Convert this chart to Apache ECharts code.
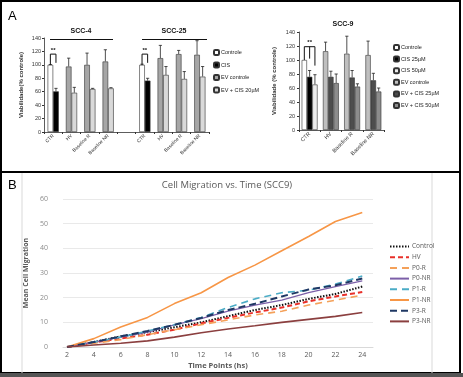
<!DOCTYPE html>
<html><head><meta charset="utf-8">
<script src="https://cdn.jsdelivr.net/npm/echarts/dist/echarts.min.js"></script>
<style>html,body{margin:0;padding:0;background:#fff}#c{width:463px;height:377px}</style>
</head><body><div id="c"></div>
<script>
// ---------- Panel A (SCC-4 / SCC-25) ----------
const catsA = ['CTR','HV','Baseline R','Baseline NR','','CTR','HV','Baseline R','Baseline NR'];
const controleA   = [100,'-','-','-','-',100,'-','-','-'];
const cisA        = [60.5,'-','-','-','-',76.5,'-','-','-'];
const evControleA = ['-',97.5,100,105,'-','-',110,116,115];
const evCisA      = ['-',58.5,64,65,'-','-',85,79,82.5];
const errControleA   = [0.5,0,0,0,0,1,0,0,0];
const errCisA        = [4.5,0,0,0,0,3.5,0,0,0];
const errEvControleA = [0,12.5,17.5,17.5,0,0,19,5.5,21];
const errEvCisA      = [0,8,1,1,0,0,12.5,11,15];
const legendA = ['Controle','CIS','EV controle','EV + CIS 20µM'];

// ---------- Panel A (SCC-9) ----------
const cats9 = ['CTR','HV','Baseline R','Baseline NR'];
const controle9 = [100,'-','-','-'];
const cis25_9   = [76,'-','-','-'];
const cis50_9   = [65,'-','-','-'];
const evControle9 = ['-',112.5,109,107];
const evCis25_9   = ['-',76,75,71];
const evCis50_9   = ['-',67,62,55];
const errControle9 = [0,0,0,0];
const errCis25_9   = [9,0,0,0];
const errCis50_9   = [14,0,0,0];
const errEvControle9 = [0,13,25,20];
const errEvCis25_9   = [0,8,10,10];
const errEvCis50_9   = [0,13,4,5];
const legend9 = ['Controle','CIS 25µM','CIS 50µM','EV controle','EV + CIS 25µM','EV + CIS 50µM'];

// ---------- Panel B ----------
const timePoints = [2,4,6,8,10,12,14,16,18,20,22,24];
const xTicksB = [2,4,6,8,10,12,14,16,18,20,22,24];
const control = [0,2,4.3,6,8,10,12.5,15,17,19.5,21.5,24.5];
const hv      = [0,1.8,3.5,5,7,9.6,11.8,14,16,18.5,20.5,22.3];
const p0r     = [0,1.5,3,5,7,9,11,13,14.5,17,19,21];
const p0nr    = [0,2,4,6,9,11.5,14.5,17,19,22,24.5,26.8];
const p1r     = [0,2,4,6.5,9,12,16,19.5,22,23,25.5,28.8];
const p1nr    = [0,3.4,8.1,12,17.6,22,28.2,33.2,39,44.8,50.9,54.5];
const p3r     = [0,2,4.3,6.5,9,11.8,15,17.5,20.5,23.3,25,27.8];
const p3nr    = [0,0.8,1.5,2.5,4,5.8,7.3,8.6,10,11.2,12.4,14];

const fA = 'Liberation Sans, Arial, sans-serif';
const fB = 'Open Sans, Lato, sans-serif';
const BW_A = 5.6, BW_9 = 5.3;

function errData(vals, errs, pos){
  const out = [];
  vals.forEach((v,i)=>{ if (typeof v === 'number' && errs[i] > 0) out.push([i, v, errs[i], pos]); });
  return out;
}
function errRender(bw){
  return function(params, api){
    const i = api.value(0), v = api.value(1), e = api.value(2), pos = api.value(3);
    const p0 = api.coord([i, v]), p1 = api.coord([i, v + e]);
    const x = p0[0] + pos * bw;
    return {type:'group', children:[
      {type:'line', shape:{x1:x,y1:p0[1],x2:x,y2:p1[1]}, style:{stroke:'#222',lineWidth:0.8}},
      {type:'line', shape:{x1:x-1.6,y1:p1[1],x2:x+1.6,y2:p1[1]}, style:{stroke:'#222',lineWidth:0.8}}
    ]};
  };
}
// brackets: [cat, topValue, bottom value of each leg...]
const bracketsA = [[0,116,100,103],[5,116,100,103]];
const bracket9 = [[0,119,100,102,92]];
function bracketRender(bw, legPos){
  return function(params, api){
    const i = api.value(0), top = api.value(1);
    const ptTop = api.coord([i, top]);
    const children = [];
    const xs = legPos.map(p => ptTop[0] + p * bw);
    children.push({type:'line', shape:{x1:xs[0],y1:ptTop[1],x2:xs[xs.length-1],y2:ptTop[1]}, style:{stroke:'#111',lineWidth:1}});
    legPos.forEach((p,k)=>{
      const b = api.coord([i, api.value(2+k)]);
      children.push({type:'line', shape:{x1:xs[k],y1:ptTop[1],x2:xs[k],y2:b[1]}, style:{stroke:'#111',lineWidth:1}});
    });
    children.push({type:'text', style:{text:'**', x:(xs[0]+xs[xs.length-1])/2, y:ptTop[1]-1, align:'center', verticalAlign:'bottom', font:'bold 6px '+fA, fill:'#111'}});
    return {type:'group', children};
  };
}

const barBorder = {borderColor:'#333', borderWidth:0.6};
function mkBar(name, data, stack, color, xi, yi, bw){
  return {type:'bar', name, data, stack, xAxisIndex:xi, yAxisIndex:yi, barWidth:bw, barGap:'0%',
    itemStyle:Object.assign({color}, barBorder), emphasis:{disabled:true}, animation:false};
}

const lineStyles = [
  ['Control', control, '#111111', 2, [1.5,1.5]],
  ['HV', hv, '#e8302a', 2, [5,3]],
  ['P0-R', p0r, '#f4a15a', 1.6, [7,5]],
  ['P0-NR', p0nr, '#7c5fa8', 1.3, 'solid'],
  ['P1-R', p1r, '#4bacc6', 1.6, [7,5]],
  ['P1-NR', p1nr, '#f79646', 1.6, 'solid'],
  ['P3-R', p3r, '#1f3864', 2, [7,4]],
  ['P3-NR', p3nr, '#8b3f3f', 1.6, 'solid']
];

const series = [
  mkBar('Controle|A', controleA, 'L', '#ffffff', 0, 0, BW_A),
  mkBar('CIS|A', cisA, 'R', '#000000', 0, 0, BW_A),
  mkBar('EV controle|A', evControleA, 'L', '#a6a6a6', 0, 0, BW_A),
  mkBar('EV + CIS 20µM|A', evCisA, 'R', '#d9d9d9', 0, 0, BW_A),
  {type:'custom', xAxisIndex:0, yAxisIndex:0, renderItem:errRender(BW_A), encode:{x:0,y:1}, silent:true, animation:false,
    data:[].concat(errData(controleA,errControleA,-0.5), errData(cisA,errCisA,0.5), errData(evControleA,errEvControleA,-0.5), errData(evCisA,errEvCisA,0.5))},
  {type:'custom', xAxisIndex:0, yAxisIndex:0, renderItem:bracketRender(BW_A,[-0.5,0.5]), encode:{x:0,y:1}, silent:true, animation:false, data:bracketsA},

  mkBar('Controle|9', controle9, 'a', '#ffffff', 1, 1, BW_9),
  mkBar('CIS 25µM|9', cis25_9, 'b', '#000000', 1, 1, BW_9),
  mkBar('CIS 50µM|9', cis50_9, 'c', '#ececec', 1, 1, BW_9),
  mkBar('EV controle|9', evControle9, 'a', '#bfbfbf', 1, 1, BW_9),
  mkBar('EV + CIS 25µM|9', evCis25_9, 'b', '#4d4d4d', 1, 1, BW_9),
  mkBar('EV + CIS 50µM|9', evCis50_9, 'c', '#8c8c8c', 1, 1, BW_9),
  {type:'custom', xAxisIndex:1, yAxisIndex:1, renderItem:errRender(BW_9), encode:{x:0,y:1}, silent:true, animation:false,
    data:[].concat(errData(controle9,errControle9,-1), errData(cis25_9,errCis25_9,0), errData(cis50_9,errCis50_9,1),
      errData(evControle9,errEvControle9,-1), errData(evCis25_9,errEvCis25_9,0), errData(evCis50_9,errEvCis50_9,1))},
  {type:'custom', xAxisIndex:1, yAxisIndex:1, renderItem:bracketRender(BW_9,[-1,0,1]), encode:{x:0,y:1}, silent:true, animation:false, data:bracket9}
].concat(lineStyles.map(([name, vals, color, w, dash]) => ({
  type:'line', name, xAxisIndex:2, yAxisIndex:2, symbol:'none', animation:false,
  data: timePoints.map((t,i)=>[t, vals[i]]),
  lineStyle:{color, width:w, type:dash}, itemStyle:{color}
})));

const strip = n => n.split('|')[0];
const option = {
  backgroundColor:'#fff',
  animation:false,
  grid:[
    {left:44, top:38, width:165, height:94},
    {left:299, top:32, width:85, height:98},
    {left:63, top:199, width:310, height:148}
  ],
  xAxis:[
    {type:'category', gridIndex:0, data:catsA,
      axisLine:{lineStyle:{color:'#333',width:0.8}}, axisTick:{show:true,length:2,lineStyle:{color:'#333'}},
      axisLabel:{rotate:45, interval:0, fontSize:4.8, margin:3, color:'#333', fontFamily:fA}},
    {type:'category', gridIndex:1, data:cats9,
      axisLine:{lineStyle:{color:'#333',width:0.8}}, axisTick:{show:true,length:2,lineStyle:{color:'#333'}},
      axisLabel:{rotate:45, interval:0, fontSize:5.5, margin:3, color:'#333', fontFamily:fA}},
    {type:'value', gridIndex:2, min:1.7, max:24.8,
      axisLine:{lineStyle:{color:'#d9d9d9'}}, axisTick:{show:false}, splitLine:{show:false},
      axisLabel:{customValues:xTicksB, fontSize:7, margin:4, color:'#595959', fontFamily:fB},
      name:'Time Points (hs)', nameLocation:'middle', nameGap:15,
      nameTextStyle:{fontSize:7.5, fontWeight:'bold', color:'#595959', fontFamily:fB}}
  ],
  yAxis:[
    {type:'value', gridIndex:0, min:0, max:140, interval:20,
      axisLine:{show:true,lineStyle:{color:'#333',width:0.8}}, axisTick:{show:true,length:2,lineStyle:{color:'#333'}}, splitLine:{show:false},
      axisLabel:{fontSize:5.5, margin:3, color:'#333', fontFamily:fA},
      name:'Viabilidade(% controle)', nameLocation:'middle', nameGap:20, nameRotate:90,
      nameTextStyle:{fontSize:6, fontWeight:'bold', color:'#333', fontFamily:fA}},
    {type:'value', gridIndex:1, min:0, max:140, interval:20,
      axisLine:{show:true,lineStyle:{color:'#333',width:0.8}}, axisTick:{show:true,length:2,lineStyle:{color:'#333'}}, splitLine:{show:false},
      axisLabel:{fontSize:5.5, margin:4, color:'#333', fontFamily:fA},
      name:'Viabilidade (% controle)', nameLocation:'middle', nameGap:22, nameRotate:90,
      nameTextStyle:{fontSize:6, fontWeight:'bold', color:'#333', fontFamily:fA}},
    {type:'value', gridIndex:2, min:0, max:60, interval:10,
      axisLine:{show:false}, axisTick:{show:false},
      splitLine:{lineStyle:{color:'#e3e3e3',width:0.8}},
      axisLabel:{fontSize:7, margin:15, color:'#8c8c8c', fontFamily:fB},
      name:'Mean Cell Migration', nameLocation:'middle', nameGap:27, nameRotate:90,
      nameTextStyle:{fontSize:7, fontWeight:'bold', color:'#595959', fontFamily:fB}}
  ],
  legend:[
    {data:legendA.map(n=>n+'|A'), formatter:strip, orient:'vertical', left:208, top:44, itemWidth:5, itemHeight:5, itemGap:5.5,
      textStyle:{fontSize:5.5, color:'#222', fontFamily:fA, padding:[0,0,0,-3]}, selectedMode:false},
    {data:legend9.map(n=>n+'|9'), formatter:strip, orient:'vertical', left:388, top:39, itemWidth:5, itemHeight:5, itemGap:4.6,
      textStyle:{fontSize:5.5, color:'#222', fontFamily:fA, padding:[0,0,0,-3]}, selectedMode:false},
    {data:lineStyles.map(l=>l[0]), orient:'vertical', left:384, top:238, itemWidth:19, itemHeight:8, itemGap:3.7,
      itemStyle:{opacity:0},
      textStyle:{fontSize:6.5, color:'#595959', fontFamily:fB, padding:[0,0,0,-2]}, selectedMode:false}
  ],
  graphic:[
    {type:'rect', shape:{x:1,y:1,width:459,height:171}, style:{fill:'none',stroke:'#000',lineWidth:2}, silent:true},
    {type:'rect', shape:{x:1,y:172,width:459,height:201}, style:{fill:'none',stroke:'#000',lineWidth:2}, silent:true},
    {type:'rect', shape:{x:0,y:373,width:463,height:4}, style:{fill:'#555'}, silent:true},
    {type:'line', shape:{x1:22,y1:173,x2:22,y2:373}, style:{stroke:'#d9d9d9',lineWidth:1}, silent:true},
    {type:'line', shape:{x1:432,y1:173,x2:432,y2:373}, style:{stroke:'#d9d9d9',lineWidth:1}, silent:true},
    {type:'text', x:8, y:10, style:{text:'A', font:'13px '+fA, fill:'#000'}, silent:true},
    {type:'text', x:8, y:179, style:{text:'B', font:'13px '+fA, fill:'#000'}, silent:true},
    {type:'text', x:81, y:28, style:{text:'SCC-4', font:'bold 7px '+fA, fill:'#111', align:'center'}, silent:true},
    {type:'text', x:174, y:28, style:{text:'SCC-25', font:'bold 7px '+fA, fill:'#111', align:'center'}, silent:true},
    {type:'text', x:343, y:21, style:{text:'SCC-9', font:'bold 7px '+fA, fill:'#111', align:'center'}, silent:true},
    {type:'line', shape:{x1:50,y1:39.5,x2:113,y2:39.5}, style:{stroke:'#111',lineWidth:1}, silent:true},
    {type:'line', shape:{x1:142,y1:39.5,x2:207,y2:39.5}, style:{stroke:'#111',lineWidth:1}, silent:true},
    {type:'text', x:227, y:180, style:{text:'Cell Migration vs. Time (SCC9)', font:'9.5px '+fB, fill:'#595959', align:'center'}, silent:true}
  ],
  series
};
const chart = echarts.init(document.getElementById('c'), null, {renderer:'canvas'});
chart.setOption(option);
</script></body></html>
